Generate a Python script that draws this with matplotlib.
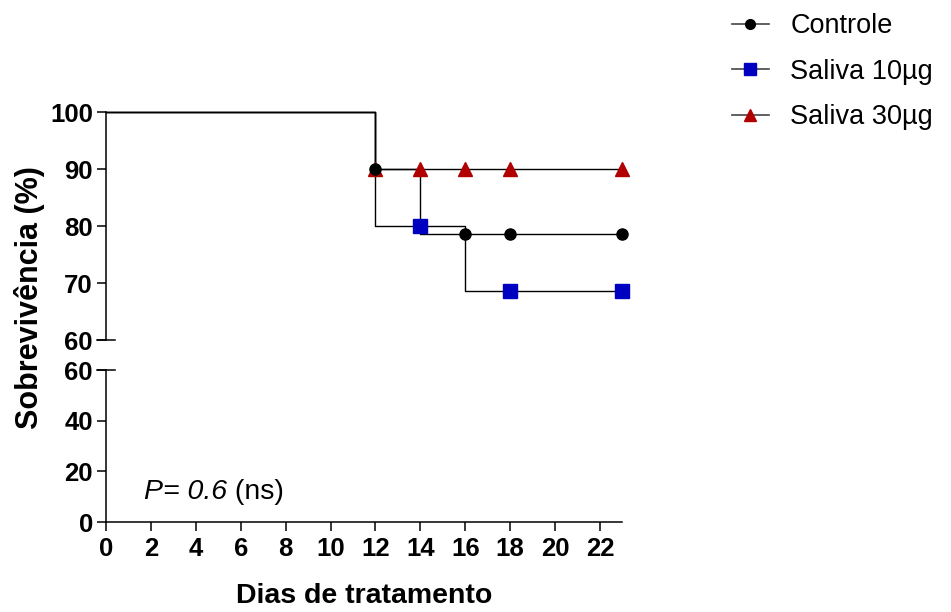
import matplotlib
matplotlib.use("Agg")
import matplotlib.pyplot as plt
import matplotlib.transforms as mtransforms

plt.rcParams['font.family'] = ['Liberation Sans', 'DejaVu Sans']

# survival curves (days where the curve changes, and its value from that day on)
controle_days = [0, 12, 14, 23]
controle_surv = [100, 90, 78.6, 78.6]
controle_mark_days = [12, 16, 18, 23]
controle_mark_surv = [90, 78.6, 78.6, 78.6]

sal10_days = [0, 12, 16, 23]
sal10_surv = [100, 80, 68.6, 68.6]
sal10_mark_days = [14, 18, 23]
sal10_mark_surv = [80, 68.6, 68.6]

sal30_days = [0, 12, 23]
sal30_surv = [100, 90, 90]
sal30_mark_days = [12, 14, 16, 18, 23]
sal30_mark_surv = [90, 90, 90, 90, 90]

x_ticks = list(range(0, 23, 2))
upper_ticks = [60, 70, 80, 90, 100]
lower_ticks = [0, 20, 40, 60]

tick_fs = 18.5

fig = plt.figure(figsize=(9.51, 6.12), dpi=100)
ax_up = fig.add_axes([0.1115, 0.4444, 0.543, 0.3725])
ax_lo = fig.add_axes([0.1115, 0.147, 0.543, 0.2484])

lw = 1.0
for ax in (ax_up, ax_lo):
    ax.set_xlim(0, 23)
    for s in ('top', 'right'):
        ax.spines[s].set_visible(False)
    for s in ('left', 'bottom'):
        ax.spines[s].set_linewidth(1.1)
    ax.tick_params(direction='out', length=6.5, width=1.1, pad=3)
ax_lo.tick_params(axis='x', pad=4)

ax_up.spines['bottom'].set_visible(False)
ax_up.set_xticks([])
ax_up.set_ylim(60, 100)
ax_up.set_yticks(upper_ticks)
ax_up.set_yticklabels([str(v) for v in upper_ticks], fontweight='bold', fontsize=tick_fs)

ax_lo.set_ylim(0, 60)
ax_lo.set_yticks(lower_ticks)
ax_lo.set_yticklabels([str(v) for v in lower_ticks], fontweight='bold', fontsize=tick_fs)
ax_lo.set_xticks(x_ticks)
ax_lo.set_xticklabels([str(v) for v in x_ticks], fontweight='bold', fontsize=tick_fs)

# break marks at the axis ends
tr_up = mtransforms.blended_transform_factory(ax_up.transAxes, ax_up.transData)
ax_up.plot([-0.017, 0.017], [60, 60], color='black', lw=1.1, transform=tr_up, clip_on=False)
tr_lo = mtransforms.blended_transform_factory(ax_lo.transAxes, ax_lo.transData)
ax_lo.plot([-0.017, 0.017], [60, 60], color='black', lw=1.1, transform=tr_lo, clip_on=False)

# step lines
ax_up.step(sal30_days, sal30_surv, where='post', color='black', lw=lw, clip_on=False)
ax_up.step(sal10_days, sal10_surv, where='post', color='black', lw=lw, clip_on=False)
ax_up.step(controle_days, controle_surv, where='post', color='black', lw=lw, clip_on=False)

# markers
ax_up.plot(sal30_mark_days, sal30_mark_surv, ls='none', marker='^', ms=10,
           color='#B00000', clip_on=False, zorder=3)
ax_up.plot(sal10_mark_days, sal10_mark_surv, ls='none', marker='s', ms=10,
           color='#0000C0', clip_on=False, zorder=3)
ax_up.plot(controle_mark_days, controle_mark_surv, ls='none', marker='o', ms=8,
           color='black', clip_on=False, zorder=4)

# legend
h1, = ax_up.plot([], [], color='#444444', lw=1.2, marker='o', ms=7, mfc='black', mec='black')
h2, = ax_up.plot([], [], color='#444444', lw=1.2, marker='s', ms=9, mfc='#0000C0', mec='#0000C0')
h3, = ax_up.plot([], [], color='#444444', lw=1.2, marker='^', ms=9, mfc='#B00000', mec='#B00000')
fig.legend([h1, h2, h3], ['Controle', 'Saliva 10µg', 'Saliva 30µg'],
           loc='upper left', bbox_to_anchor=(732 / 951, 0.978), frameon=False,
           borderpad=0, borderaxespad=0,
           fontsize=19.5, handlelength=1.35, handletextpad=0.8, labelspacing=0.72)

# P value
t1 = ax_lo.text(0.074, 0.2, 'P= 0.6', transform=ax_lo.transAxes, fontsize=20.5,
                style='italic', va='center', ha='left')
ax_lo.annotate(' (ns)', xy=(1, 0), xycoords=t1, va='bottom', ha='left', fontsize=20.5)

fig.text(30 / 951, 1 - 298 / 612, 'Sobrevivência (%)', rotation=90, fontsize=22,
         fontweight='bold', ha='center', va='center')
fig.text(364 / 951, 1 - 596 / 612, 'Dias de tratamento', fontsize=20.5,
         fontweight='bold', ha='center', va='center')

fig.savefig('out.png', dpi=100)
